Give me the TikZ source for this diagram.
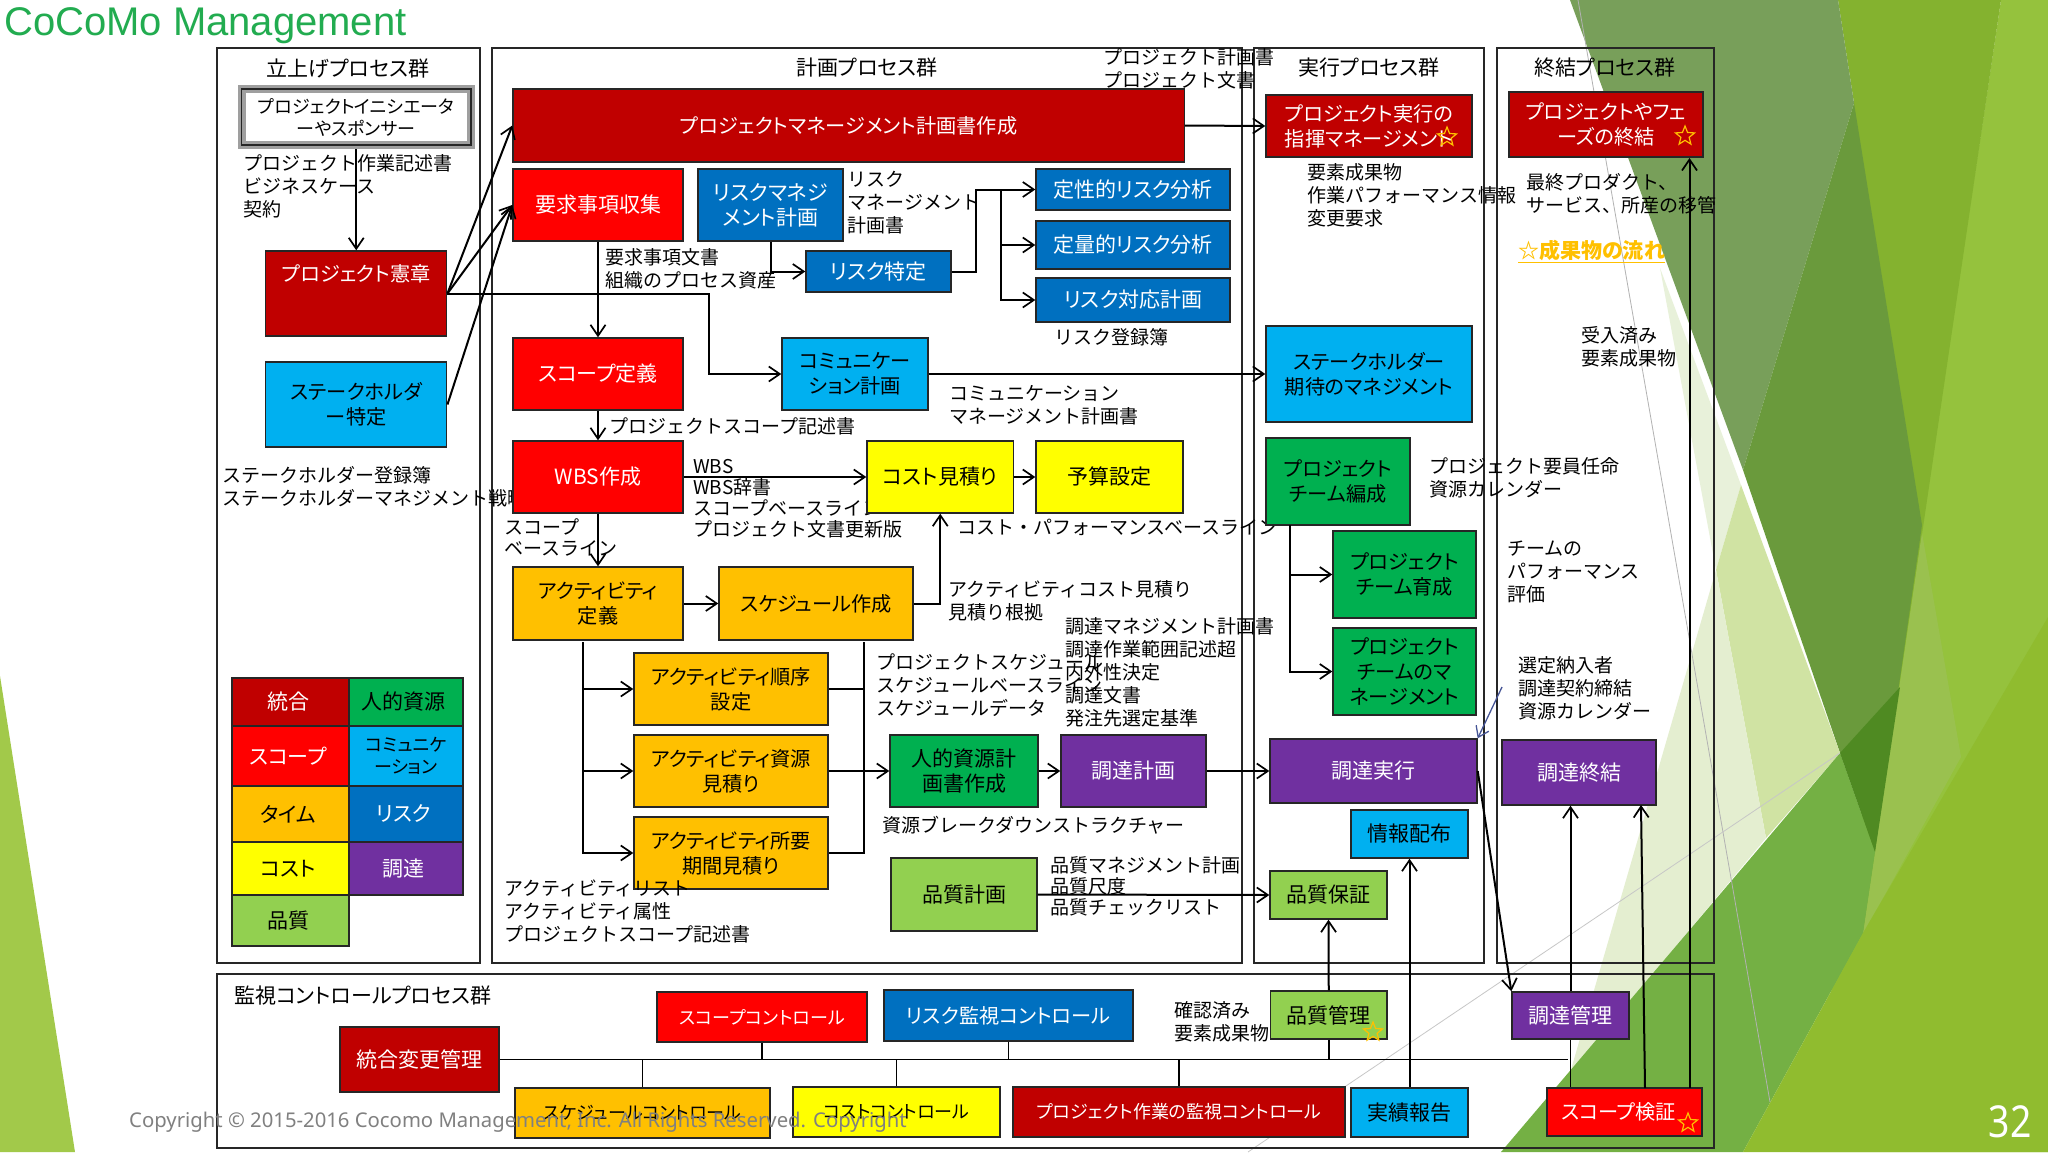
\documentclass[tikz,border=0pt]{standalone}
\usepackage{fontspec}
\setmainfont{Noto Sans CJK JP}
\newfontfamily\palfont[RawFeature=+palt]{Noto Sans CJK JP}
\newfontfamily\titlefont{Liberation Sans}
\newfontfamily\footfont{Noto Sans}
\usetikzlibrary{matrix,arrows.meta,shapes.geometric}
\definecolor{cint}{HTML}{C00000}
\definecolor{cscp}{HTML}{FF0000}
\definecolor{ctim}{HTML}{FFC000}
\definecolor{ccst}{HTML}{FFFF00}
\definecolor{cqua}{HTML}{92D050}
\definecolor{chrs}{HTML}{00B050}
\definecolor{ccom}{HTML}{00B0F0}
\definecolor{crsk}{HTML}{0070C0}
\definecolor{cprc}{HTML}{7030A0}
\newcommand{\boxtext}{\palfont\fontsize{21}{25}\selectfont}
\newcommand{\kanatext}{\palfont\fontsize{20.2}{25}\selectfont}
\newcommand{\smalltext}{\palfont\fontsize{18}{22}\selectfont}
\newcommand{\labeltext}{\fontsize{19}{23}\selectfont}
\newcommand{\tightlabel}{\fontsize{19}{21}\selectfont}

\begin{document}
\begin{tikzpicture}[
    x=1pt,y=-1pt,
    sz/.style 2 args={minimum width=#1pt,minimum height=#2pt},
    any/.style={draw=black!85,line width=1.4pt,align=center,inner sep=0pt,font=\boxtext},
    fint/.style={any,fill=cint,text=white},
    fscp/.style={any,fill=cscp,text=white},
    ftim/.style={any,fill=ctim},
    fcst/.style={any,fill=ccst},
    fqua/.style={any,fill=cqua},
    fhrs/.style={any,fill=chrs},
    fcom/.style={any,fill=ccom},
    frsk/.style={any,fill=crsk,text=white},
    fprc/.style={any,fill=cprc,text=white},
    panel/.style={draw=black!85,line width=1.5pt,inner sep=0pt},
    grouptitle/.style={inner sep=0pt,font=\boxtext},
    note/.style={anchor=west,align=left,inner sep=0pt,font=\labeltext},
    tightnote/.style={note,font=\tightlabel},
    arr/.style={-{Straight Barb[length=11pt,width=15pt,line width=1.7pt]},line width=2pt,black},
    wire/.style={line width=1.8pt,black},
    badge/.style={star,star points=5,star point ratio=2.3,draw=ctim,line width=1.2pt,minimum size=20pt,inner sep=0pt}
]
\useasboundingbox (0,0) rectangle (2048,1152);

% backdrop
\fill[white] (0,0) rectangle (2048,1152);
\fill[color={rgb,255:red,162;green,201;blue,74}] (0,676) -- (75,1152) -- (0,1152) -- cycle;
\fill[color={rgb,255:red,149;green,194;blue,61}] (2001,0) -- (2048,0) -- (2048,1152) -- (1800,1152) -- (1922,525) -- cycle;
\fill[color={rgb,255:red,132;green,178;blue,47}] (1838,0) -- (2001,0) -- (1863,933) -- (1854,103) -- cycle;
\fill[color={rgb,255:red,120;green,159;blue,90}] (1570,0) -- (1838,0) -- (1854,103) -- (1743,470) -- cycle;
\fill[color={rgb,255:red,106;green,154;blue,60}] (1854,103) -- (1922,525) -- (1875,852) -- (1840,753) -- (1743,470) -- cycle;
\fill[color={rgb,255:red,154;green,193;blue,79}] (1922,533) -- (1961,757) -- (1888,889) -- (1863,933) -- (1875,852) -- cycle;
\fill[color={rgb,255:red,232;green,241;blue,218}] (1660,268) -- (1741,485) -- (1716,570) -- cycle;
\fill[color={rgb,255:red,208;green,227;blue,163}] (1741,485) -- (1840,753) -- (1766,838) -- (1716,570) -- cycle;
\fill[color={rgb,255:red,228;green,238;blue,208}] (1716,570) -- (1766,838) -- (1570,1073) -- cycle;
\fill[color={rgb,255:red,116;green,176;blue,68}] (1840,753) -- (1875,852) -- (1863,933) -- (1743,1152) -- (1501,1152) -- cycle;
\fill[color={rgb,255:red,144;green,188;blue,47}] (2048,617) -- (1863,933) -- (1743,1152) -- (2048,1152) -- cycle;
\fill[color={rgb,255:red,79;green,138;blue,34}] (1840,753) -- (1900,687) -- (1875,852) -- cycle;
\draw[black!30,line width=0.8pt] (1578,0) -- (1770,1102);
\draw[black!22,line width=0.8pt] (1248,1152) -- (1840,753);

% process groups
\node[panel,sz={263}{915}] (initpanel) at (348.5,505.5) {};
\node[panel,sz={750}{915}] (planpanel) at (867,505.5) {};
\node[panel,sz={230}{915}] (execpanel) at (1369,505.5) {};
\node[panel,sz={217}{915}] (closepanel) at (1605.5,505.5) {};
\node[panel,sz={1497}{174}] (ctrlpanel) at (965.5,1061) {};

\node[grouptitle] (inittitle) at (348,69) {立上げプロセス群};
\node[grouptitle] (plantitle) at (867,68) {計画プロセス群};
\node[grouptitle] (exectitle) at (1369,68) {実行プロセス群};
\node[grouptitle] (closetitle) at (1605,68) {終結プロセス群};
\node[grouptitle,anchor=west] (ctrltitle) at (234,996) {監視コントロールプロセス群};

% texts that the boxes cover
\node[note] (stakeout) at (222,487) {ステークホルダー登録簿\\ステークホルダーマネジメント戦略};
\node[tightnote] (wbsout) at (693,499) {WBS\\WBS辞書\\スコープベースライン\\プロジェクト文書更新版};
\node[note] (costout) at (957,527) {コスト・パフォーマンスベースライン};

% initiating
\node[any,fill=white,sz={229.5}{56},draw=gray!75,line width=8pt,postaction={draw=black!85,line width=1.2pt},font=\smalltext] (sponsor) at (356.25,117) {プロジェクトイニシエータ\\ーやスポンサー};
\node[fint,sz={181}{85},font=\kanatext] (charter) at (356.25,293.5) {プロジェクト憲章\\[16pt]~};
\node[fcom,sz={181}{85},font=\kanatext] (stakeid) at (356.25,404.5) {ステークホルダ\\ー特定};

\matrix (legend) at (231,677) [matrix of nodes,anchor=north west,column sep=-1.4pt,row sep=-1.4pt,inner sep=0pt,nodes={anchor=center}]
{
|[fint,sz={117}{48}]| 統合 & |[fhrs,sz={114}{48}]| 人的資源 \\
|[fscp,sz={117}{60}]| スコープ & |[fcom,sz={114}{60},font=\smalltext,text width=110pt]| {コミュニケ\\ーション} \\
|[ftim,sz={117}{56}]| タイム & |[frsk,sz={114}{56}]| リスク \\
|[fcst,sz={117}{53}]| コスト & |[fprc,sz={114}{53}]| 調達 \\
|[fqua,sz={117}{51}]| 品質 & \\
};

% planning
\node[fint,sz={671.5}{73},font=\kanatext] (pmplan) at (848.75,125.5) {プロジェクトマネージメント計画書作成};
\node[fscp,sz={170}{72}] (req) at (598,205) {要求事項収集};
\node[frsk,sz={145}{72}] (riskplan) at (770.5,205) {リスクマネジ\\メント計画};
\node[frsk,sz={145}{41}] (riskid) at (878.5,271.5) {リスク特定};
\node[frsk,sz={194}{41}] (qualrisk) at (1133,189.5) {定性的リスク分析};
\node[frsk,sz={194}{48}] (quantrisk) at (1133,245) {定量的リスク分析};
\node[frsk,sz={194}{44}] (riskresp) at (1133,300) {リスク対応計画};
\node[fscp,sz={170}{72}] (scopedef) at (598,374) {スコープ定義};
\node[fcom,sz={146}{72},font=\kanatext] (commplan) at (855,374) {コミュニケー\\ション計画};
\node[fscp,sz={170}{72}] (wbs) at (598,477) {WBS作成};
\node[fcst,sz={146.5}{72}] (costest) at (940.25,477) {コスト見積り};
\node[fcst,sz={147}{72}] (budget) at (1109.5,477) {予算設定};
\node[ftim,sz={170}{73},font=\kanatext] (actdef) at (598,603.5) {アクティビティ\\定義};
\node[ftim,sz={194}{73},font=\kanatext] (sched) at (816,603.5) {スケジュール作成};
\node[ftim,sz={194}{72},font=\kanatext] (actseq) at (731,689) {アクティビティ順序\\設定};
\node[ftim,sz={194}{72},font=\kanatext] (actres) at (731,771) {アクティビティ資源\\見積り};
\node[ftim,sz={194}{72},font=\kanatext] (actdur) at (731,853) {アクティビティ所要\\期間見積り};
\node[fhrs,sz={148}{72}] (hrplan) at (964,771) {人的資源計\\画書作成};
\node[fprc,sz={145}{72}] (procplan) at (1133.5,771) {調達計画};
\node[fqua,sz={146}{73}] (qualplan) at (964,894.5) {品質計画};

% executing
\node[fint,sz={206}{62},font=\kanatext] (direct) at (1369,126) {プロジェクト実行の\\指揮マネージメント};
\node[fcom,sz={206}{96},font=\kanatext] (stakeexp) at (1369,374) {ステークホルダー\\期待のマネジメント};
\node[fhrs,sz={144}{87},font=\kanatext] (teamacq) at (1338,481.5) {プロジェクト\\チーム編成};
\node[fhrs,sz={143}{87},font=\kanatext] (teamdev) at (1404.5,574.5) {プロジェクト\\チーム育成};
\node[fhrs,sz={143}{87},font=\kanatext] (teammgmt) at (1404.5,671.5) {プロジェクト\\チームのマ\\ネージメント};
\node[fprc,sz={207}{64}] (procexec) at (1373.5,771) {調達実行};
\node[fcom,sz={117}{48}] (infodist) at (1409.5,834) {情報配布};
\node[fqua,sz={117}{48}] (qualassure) at (1328.5,895) {品質保証};

% closing
\node[fint,sz={194}{65},font=\kanatext] (closeproj) at (1606,124.5) {プロジェクトやフェ\\ーズの終結\hspace{32pt}};
\node[fprc,sz={154}{65}] (procclose) at (1579,772.5) {調達終結};

% monitoring
\node[fscp,sz={210}{50},font=\smalltext] (scopectl) at (762,1017) {スコープコントロール};
\node[frsk,sz={249}{51},font=\kanatext] (riskctl) at (1008.5,1015.5) {リスク監視コントロール};
\node[fint,sz={159}{65}] (intchange) at (419.5,1059.5) {統合変更管理};
\node[ftim,sz={255}{50},font=\smalltext] (schedctl) at (642.5,1113) {スケジュールコントロール};
\node[fcst,sz={207}{50},font=\smalltext] (costctl) at (896.5,1112) {コストコントロール};
\node[fint,sz={332}{50},font=\smalltext] (workctl) at (1179,1112) {プロジェクト作業の監視コントロール};
\node[fcom,sz={117}{49}] (perfrep) at (1409.5,1112.5) {実績報告};
\node[fscp,sz={155}{48},font=\kanatext] (verify) at (1624.5,1112) {スコープ検証\hspace{12pt}};
\node[fqua,sz={116.5}{48}] (qualctl) at (1328.75,1015) {品質管理};
\node[fprc,sz={117}{47}] (procctl) at (1570.5,1015.5) {調達管理};

% bends and forks
\coordinate (charterbend) at (709,293.5);
\coordinate (riskbend) at (976,189.5);
\coordinate (riskfork) at (1000.5,189.5);
\coordinate (actfork) at (583,642);
\coordinate (schedfork) at (864,642);
\coordinate (teamfork) at (1290,525);
\coordinate (busend) at (1568,1059.5);
\coordinate (bluestart) at (1502,687);
\coordinate (verifyleft) at (1645,1088);
\coordinate (verifyright) at (1689.5,1088);
\coordinate (procclosein) at (1641,805);
\coordinate (closeprojin) at (1689.5,158);

\draw[arr] (sponsor.south) -- (charter.north);
\draw[arr] (charter.east) -- (pmplan.west);
\draw[arr] (charter.east) -- (req.west);
\draw[arr] (stakeid.east) -- (req.west);
\draw[arr] (charter.east) -- (charterbend) |- (commplan.west);
\draw[arr] (req.south) -- (scopedef.north);
\draw[arr] (scopedef.south) -- (wbs.north);
\draw[arr] (wbs.south) -- (actdef.north);
\draw[arr] (riskplan.south) |- (riskid.west);
\draw[arr] (riskid.east) -| (riskbend) -- (qualrisk.west);
\draw[arr] (riskfork) |- (quantrisk.west);
\draw[arr] (riskfork) |- (riskresp.west);
\draw[arr] (pmplan.east) -- (direct.west);
\draw[arr] (commplan.east) -- (stakeexp.west);
\draw[arr] (wbs.east) -- (costest.west);
\draw[arr] (costest.east) -- (budget.west);
\draw[arr] (actdef.east) -- (sched.west);
\draw[arr] (sched.east) -| (costest.south);
\draw[arr] (actfork) |- (actseq.west);
\draw[arr] (actfork) |- (actres.west);
\draw[arr] (actfork) |- (actdur.west);
\draw[wire] (schedfork) |- (actseq.east);
\draw[wire] (schedfork) |- (actdur.east);
\draw[arr] (actres.east) -- (hrplan.west);
\draw[arr] (hrplan.east) -- (procplan.west);
\draw[arr] (procplan.east) -- (procexec.west);
\draw[arr] (qualplan.east) -- (qualassure.west);
\draw[arr] (teamfork) |- (teamdev.west);
\draw[arr] (teamfork) |- (teammgmt.west);
\draw[arr] (procexec.east) -- (procctl.north west);
\draw[-{Straight Barb[length=10pt,width=14pt]},line width=1.3pt,color={rgb,255:red,70;green,85;blue,150}] (bluestart) -- (procexec.north east);
\draw[arr] (qualctl.north) -- (qualassure.south);
\draw[arr] (perfrep.north) -- (infodist.south);
\draw[arr] (procctl.north) -- (procctl.north |- procclose.south);
\draw[arr] (verifyleft) -- (procclosein);
\draw[arr] (verifyright) -- (closeprojin);
\draw[wire] (procctl.south) -- (procctl.south |- verify.north);
\draw[wire] (intchange.east) -- (busend);
\draw[wire] (scopectl.south) -- (scopectl.south |- busend);
\draw[wire] (riskctl.south) -- (riskctl.south |- busend);
\draw[wire] (schedctl.north) -- (schedctl.north |- busend);
\draw[wire] (costctl.north) -- (costctl.north |- busend);
\draw[wire] (workctl.north) -- (workctl.north |- busend);
\draw[wire] (qualctl.south) -- (qualctl.south |- busend);

% flow notes
\node[note] (workdoc) at (243,186) {プロジェクト作業記述書\\ビジネスケース\\契約};
\node[note] (reqdoc) at (605,269) {要求事項文書\\組織のプロセス資産};
\node[note] (riskdoc) at (847.5,203) {リスク\\マネージメント\\計画書};
\node[note] (plandoc) at (1103,69) {プロジェクト計画書\\プロジェクト文書};
\node[note] (riskreg) at (1054,337) {リスク登録簿};
\node[note] (commdoc) at (949,405) {コミュニケーション\\マネージメント計画書};
\node[note] (scopedoc) at (609,426) {プロジェクトスコープ記述書};
\node[tightnote] (baseline) at (504,537) {スコープ\\ベースライン};
\node[note] (actcost) at (948,601) {アクティビティコスト見積り\\見積り根拠};
\node[note] (schedout) at (876.5,685) {プロジェクトスケジュール\\スケジュールベースライン\\スケジュールデータ};
\node[note] (procdoc) at (1065,672) {調達マネジメント計画書\\調達作業範囲記述超\\内外性決定\\調達文書\\発注先選定基準};
\node[note] (rbs) at (882,825) {資源ブレークダウンストラクチャー};
\node[tightnote] (qualdoc) at (1050.5,886) {品質マネジメント計画\\品質尺度\\品質チェックリスト};
\node[note] (actlist) at (504,911) {アクティビティリスト\\アクティビティ属性\\プロジェクトスコープ記述書};
\node[note] (execout) at (1307.5,195) {要素成果物\\作業パフォーマンス情報\\変更要求};
\node[note] (finalout) at (1526,194) {最終プロダクト、\\サービス、所産の移管};
\node[anchor=west,inner sep=0pt,text=ctim,font=\boxtext\bfseries] (flowkey) at (1518,251) {\underline{☆成果物の流れ}};
\node[note] (accepted) at (1581,347) {受入済み\\要素成果物};
\node[note] (teamout) at (1429,478) {プロジェクト要員任命\\資源カレンダー};
\node[note] (teamperf) at (1507,572) {チームの\\パフォーマンス\\評価};
\node[note] (sellers) at (1518,688) {選定納入者\\調達契約締結\\資源カレンダー};
\node[note] (verified) at (1174,1022) {確認済み\\要素成果物};

% stars
\node[badge] (stardirect) at (1447,137) {};
\node[badge] (starclose) at (1685,136) {};
\node[badge] (starqual) at (1373,1032) {};
\node[badge] (starverify) at (1688,1123) {};

% slide furniture
\node[anchor=base west,inner sep=0pt,text={rgb,255:red,34;green,172;blue,80},font=\titlefont\fontsize{40}{41}\selectfont] (slidetitle) at (4,35) {CoCoMo Management};
\node[anchor=base west,inner sep=0pt,text=black!50,font=\footfont\fontsize{20.3}{22}\selectfont] (copyright) at (129,1127) {Copyright © 2015-2016 Cocomo Management, Inc. All Rights Reserved. Copyright};
\node[inner sep=0pt,text=white,font=\footfont\fontsize{44}{46}\selectfont] (pagenum) at (2010,1122) {\scalebox{.85}[1]{32}};
\end{tikzpicture}
\end{document}
